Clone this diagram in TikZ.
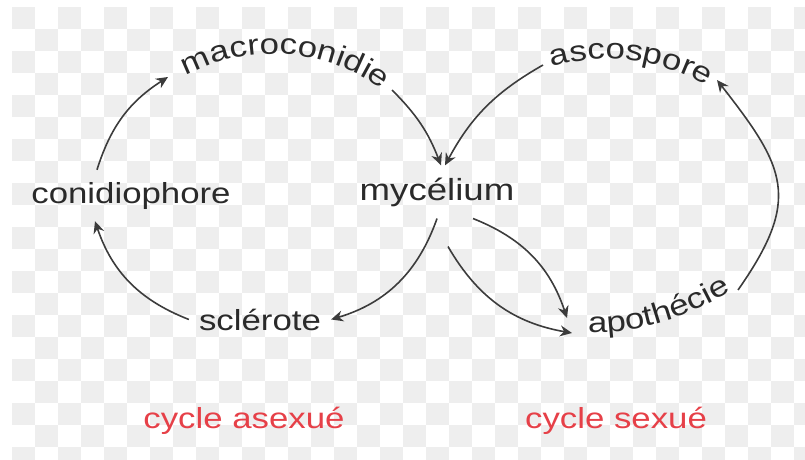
\documentclass[tikz,border=0pt]{standalone}
\usepackage{fontspec}
\usepackage{xcolor}
\usepackage{tikz}
\usetikzlibrary{arrows.meta,positioning,calc,decorations.text}
\newfontfamily\lblfont[FakeStretch=1.2]{Liberation Sans}
\definecolor{txtgray}{RGB}{42,42,42}
\definecolor{arrgray}{RGB}{60,60,60}
\definecolor{cyclered}{RGB}{230,64,72}
\definecolor{checkgray}{RGB}{238,238,238}
\newcommand{\lblstyle}{\lblfont\fontsize{29}{34}\selectfont}

\begin{document}
\begin{tikzpicture}[
    x=1pt, y=1pt,
    lbl/.style={font=\lblstyle, text=txtgray, anchor=base, inner xsep=10pt, inner ysep=12pt},
    cyclelbl/.style={font=\lblstyle, text=cyclered, anchor=base},
    arrow/.style={-{Stealth[length=12pt, width=11pt, inset=4pt]}, line width=1.6pt, arrgray},
    curvetext/.style={decorate, decoration={text along path, text align=center, text={|\lblstyle\color{txtgray}|#1}}}
]
\useasboundingbox (0,0) rectangle (805,459);

% checkerboard backdrop
\foreach \i in {0,...,34}
  \foreach \j in {0,...,20}{
    \pgfmathtruncatemacro{\k}{mod(\i+\j,2)}
    \ifnum\k=0
      \fill[checkgray] (12+23*\i, 452-22*\j) rectangle ++(23,-22);
    \fi
  }

% Stages
\node[lbl] (conid) at (131,256) {conidiophore};
\node[lbl, font=\lblfont\fontsize{30.5}{34}\selectfont] (myc) at (437,259) {mycélium};
\node[lbl] (scl) at (260,129) {sclérote};

% Curved labels
\coordinate (ctrL) at (273,219);
\coordinate (ctrR) at (607,200);
\path[curvetext=macroconidie] ($(ctrL)+(121:186)$) arc[start angle=121, end angle=51, radius=186];
\path[curvetext=ascospore] ($(ctrR)+(113:200)$) arc[start angle=113, end angle=53, radius=200];
\path[decorate, decoration={text along path, text={|\lblstyle\color{txtgray}|apothécie}}]
  (588,127) .. controls (640,125) and (688,140) .. (745,176);

% Arrow ends at the curved labels
\coordinate (macro-w) at (168,382);
\coordinate (macro-e) at (392,369);
\coordinate (asco-w) at (543,394);
\coordinate (asco-e) at (717,379);
\coordinate (apo-w) at (572,126);
\coordinate (apo-nw) at (567,141);
\coordinate (apo-e) at (738,169);

% Cycle names
\node[cyclelbl] (asex) at (244,31) {cycle asexué};
\node[cyclelbl] (sex) at (616,31) {cycle sexué};

% Connectors
\draw[arrow] ([xshift=-34pt]conid.north) to[bend left=20] (macro-w);
\draw[arrow] (macro-e) to[bend left=12] ([xshift=4pt]myc.north);
\draw[arrow] (asco-w) to[bend right=16] ([xshift=8pt]myc.north);
\draw[arrow] (myc.south) to[bend left=27] (scl.east);
\draw[arrow] (scl.west) to[bend left=25] ([xshift=-36pt]conid.south);
\draw[arrow] ([shift={(11pt,-28pt)}]myc.south) to[bend right=25] (apo-w);
\draw[arrow] ([xshift=36pt]myc.south) to[bend left=25] (apo-nw);
\draw[arrow] (apo-e) to[out=55, in=-52, looseness=1.35] (asco-e);

\end{tikzpicture}
\end{document}
